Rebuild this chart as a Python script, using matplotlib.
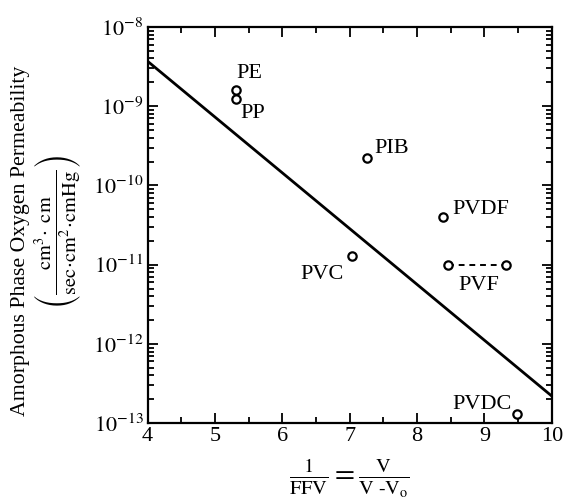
import matplotlib
matplotlib.use("Agg")
import matplotlib.pyplot as plt
import numpy as np

plt.rcParams['font.family'] = ['Liberation Serif', 'DejaVu Serif']
plt.rcParams['mathtext.fontset'] = 'stix'

# Data
polymers = ['PE', 'PP', 'PIB', 'PVDF', 'PVC', 'PVDC']
inv_ffv = [5.31, 5.31, 7.26, 8.39, 7.04, 9.49]
permeability = [1.6e-9, 1.24e-9, 2.2e-10, 4.0e-11, 1.3e-11, 1.3e-13]

pvf_x = [8.46, 9.32]
pvf_y = [1.0e-11, 1.0e-11]

fit_x = [4.0, 10.0]
fit_y = [3.7e-9, 2.2e-13]

x_ticks = [4, 5, 6, 7, 8, 9, 10]
y_ticks = [1e-13, 1e-12, 1e-11, 1e-10, 1e-9, 1e-8]
y_ticklabels = [r'$10^{-13}$', r'$10^{-12}$', r'$10^{-11}$', r'$10^{-10}$', r'$10^{-9}$', r'$10^{-8}$']

fig = plt.figure(figsize=(5.63, 4.99), dpi=100)
ax = fig.add_axes([0.262, 0.152, 0.718, 0.794])

ax.plot(fit_x, fit_y, color='black', lw=2.0)
ax.plot(inv_ffv, permeability, linestyle='none', marker='o', ms=6,
        mfc='white', mec='black', mew=1.6)
ax.plot(pvf_x, pvf_y, linestyle=(0, (3, 2.5)), color='black', lw=1.4,
        marker='o', ms=6, mfc='white', mec='black', mew=1.6)

offsets = {
    'PE': (1, 7, 'left', 'bottom'),
    'PP': (5, -5, 'left', 'top'),
    'PIB': (7, 10, 'left', 'center'),
    'PVDF': (9, 7, 'left', 'center'),
    'PVC': (-9, -19, 'right', 'center'),
    'PVDC': (-6, 10, 'right', 'center'),
}
for name, x, y in zip(polymers, inv_ffv, permeability):
    dx, dy, ha, va = offsets[name]
    ax.annotate(name, (x, y), xytext=(dx, dy), textcoords='offset pixels',
                ha=ha, va=va, fontsize=16)
ax.annotate('PVF', ((pvf_x[0] + pvf_x[1]) / 2, pvf_y[0]), xytext=(2, -21),
            textcoords='offset pixels', ha='center', va='center', fontsize=16)

ax.set_yscale('log')
ax.set_xlim(4, 10)
ax.set_ylim(1e-13, 1e-8)
ax.set_xticks(x_ticks)
ax.set_xticks(np.arange(4.5, 10, 1.0), minor=True)
ax.set_yticks(y_ticks)
ax.set_yticklabels(y_ticklabels)
ax.tick_params(which='both', direction='in', top=True, right=True, labelsize=16,
               width=1.3)
ax.tick_params(which='major', length=7)
ax.tick_params(which='minor', length=4)
ax.tick_params(axis='x', pad=3)
ax.tick_params(axis='y', pad=3)
for s in ax.spines.values():
    s.set_linewidth(1.6)

fig.text(0.62, 0.042,
         r'$\frac{1}{\mathrm{FFV}} = \frac{\mathrm{V}}{\mathrm{V\ \text{-}V_o}}$',
         ha='center', va='center', fontsize=21)

fig.text(0.036, 0.517, 'Amorphous Phase Oxygen Permeability', rotation=90,
         ha='center', va='center', fontsize=15.7)
fig.text(0.103, 0.535,
         r'$\left(\frac{\mathrm{cm^3\!\cdot\ cm}}{\mathrm{sec\!\cdot\! cm^2\!\cdot\! cmHg}}\right)$',
         rotation=90, ha='center', va='center', fontsize=21)

fig.savefig('out.png', dpi=100)
